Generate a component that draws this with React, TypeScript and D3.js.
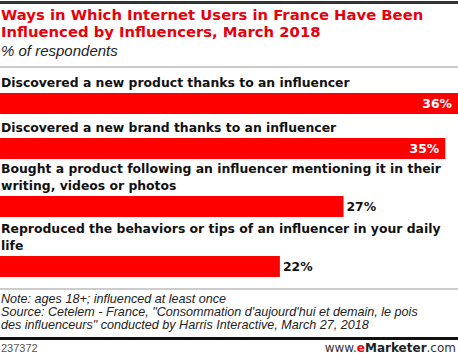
import React from "react";
import * as d3 from "d3";

const categories: string[][] = [
  ["Discovered a new product thanks to an influencer"],
  ["Discovered a new brand thanks to an influencer"],
  ["Bought a product following an influencer mentioning it in their", "writing, videos or photos"],
  ["Reproduced the behaviors or tips of an influencer in your daily", "life"],
];
const values: number[] = [36, 35, 27, 22];
const titleLines = ["Ways in Which Internet Users in France Have Been", "Influenced by Influencers, March 2018"];
const subtitle = "% of respondents";
const noteLines = [
  "Note: ages 18+; influenced at least once",
  "Source: Cetelem - France, \"Consommation d'aujourd'hui et demain, le pois",
  "des influenceurs\" conducted by Harris Interactive, March 27, 2018",
];
const chartId = "237372";

const W = 458;
const H = 355;
const RED = "#ff0000";
const labelFont = "'DejaVu Sans', Verdana, sans-serif";
const noteFont = "'Liberation Sans', Arial, sans-serif";

export default function App() {
  const x = d3.scaleLinear().domain([0, 36]).range([0, W]);
  const barTops = [93, 138, 196, 256];
  const barH = 21;
  const lineH = 17;

  return (
    <svg width={W} height={H} style={{ position: "absolute", left: 0, top: 0 }}>
      <rect x={0} y={0} width={W} height={H} fill="#fff" />
      <rect x={0} y={1} width={W} height={3} fill="#333" />
      {titleLines.map((t, i) => (
        <text key={i} x={1} y={20 + i * 17} fontFamily={labelFont} fontWeight="bold" fontSize={14.8} fill="#e8000b">
          {t}
        </text>
      ))}
      <text x={1} y={56} fontFamily={noteFont} fontStyle="italic" fontSize={15} fill="#222">
        {subtitle}
      </text>
      <rect x={0} y={66.5} width={W} height={1} fill="#999" />
      {categories.map((lines, i) => {
        const top = barTops[i];
        const v = values[i];
        const w = x(v);
        const inside = w > 400;
        return (
          <g key={i}>
            {lines.map((l, j) => (
              <text
                key={j}
                x={1}
                y={top - 6 - (lines.length - 1 - j) * lineH}
                fontFamily={labelFont}
                fontWeight="bold"
                fontSize={12.4}
                fill="#111"
              >
                {l}
              </text>
            ))}
            <rect x={0} y={top} width={w} height={barH} fill={RED} />
            <text
              x={inside ? w - 6 : w + 3}
              y={top + barH / 2 + 4.5}
              textAnchor={inside ? "end" : "start"}
              fontFamily={labelFont}
              fontWeight="bold"
              fontSize={12.4}
              fill={inside ? "#fff" : "#111"}
            >
              {v}%
            </text>
          </g>
        );
      })}
      <rect x={0} y={288.5} width={W} height={1} fill="#999" />
      {noteLines.map((t, i) => (
        <text key={i} x={1} y={303 + i * 13} fontFamily={noteFont} fontStyle="italic" fontSize={12.6} fill="#222">
          {t}
        </text>
      ))}
      <rect x={0} y={337} width={W} height={3} fill="#111" />
      <text x={1} y={352} fontFamily={noteFont} fontSize={11} fill="#555">
        {chartId}
      </text>
      <text x={W - 2} y={352} textAnchor="end" fontFamily={labelFont} fontSize={12} fill="#333">
        <tspan>www.</tspan>
        <tspan fill="#e8000b" fontWeight="bold">e</tspan>
        <tspan fontWeight="bold" fill="#222">Marketer</tspan>
        <tspan>.com</tspan>
      </text>
    </svg>
  );
}
